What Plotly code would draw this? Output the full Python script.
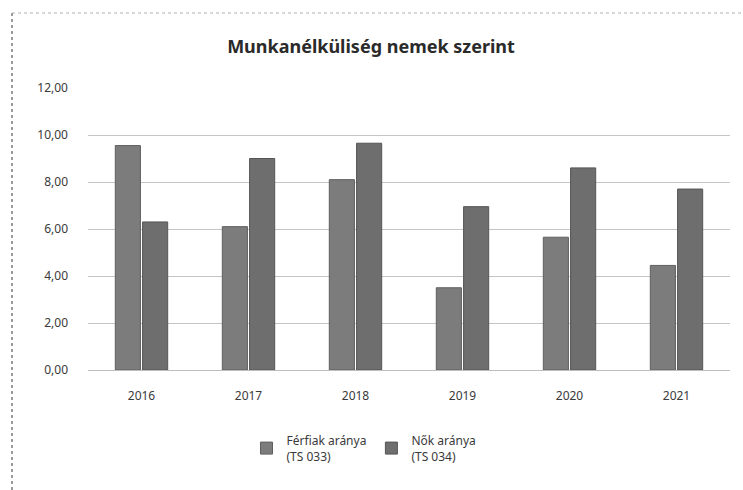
import plotly.graph_objects as go

# Unemployment rate by sex, 2016-2021
years = ["2016", "2017", "2018", "2019", "2020", "2021"]
ferfiak = [9.55, 6.1, 8.1, 3.5, 5.65, 4.45]
nok = [6.3, 9.0, 9.65, 6.95, 8.6, 7.7]
y_ticks = [0, 2, 4, 6, 8, 10, 12]

fig = go.Figure()
fig.add_trace(go.Bar(
    x=years, y=ferfiak, name="Férfiak aránya<br>(TS 033)",
    marker=dict(color="#7c7c7c", line=dict(color="#5e5e5e", width=1)),
))
fig.add_trace(go.Bar(
    x=years, y=nok, name="Nők aránya<br>(TS 034)",
    marker=dict(color="#6e6e6e", line=dict(color="#555555", width=1)),
))

# plot area in pixels: x 88..730, y 88..370
pw, ph = 642, 282

fig.update_layout(
    width=743, height=490,
    margin=dict(l=88, r=13, t=88, b=120),
    paper_bgcolor="white", plot_bgcolor="white",
    separators=",.",
    barmode="group", bargap=0.49, bargroupgap=0.08,
    font=dict(family="Noto Sans", color="#3a3a3a", size=12),
    title=dict(
        text="<b>Munkanélküliség nemek szerint</b>",
        x=371 / 743, xref="container", xanchor="center",
        y=1 - 47 / 490, yanchor="middle",
        font=dict(size=18, color="#2a2a2a"),
    ),
    xaxis=dict(
        showgrid=False, showline=True, linecolor="#bdbdbd", linewidth=1,
        ticks="", ticklabelstandoff=15, tickfont=dict(size=12),
    ),
    yaxis=dict(
        range=[0, 12], tickvals=y_ticks, tickformat=".2f",
        showgrid=True, gridcolor="#c4c4c4", gridwidth=1,
        zeroline=False, showline=False, ticks="",
        ticklabelstandoff=19, tickfont=dict(size=12),
    ),
    legend=dict(
        orientation="h", xref="container", x=364 / 743, xanchor="center",
        yref="container", y=1 - 426 / 490, yanchor="top",
        font=dict(size=12, color="#3a3a3a"), itemwidth=30,
        tracegroupgap=0,
    ),
    shapes=[
        # chart frame: left and top edges
        dict(type="line", xref="paper", yref="paper",
             x0=-76 / pw, x1=-76 / pw, y0=-120 / ph, y1=1 + 75 / ph,
             line=dict(color="#9a9a9a", width=2, dash="dot")),
        dict(type="line", xref="paper", yref="paper",
             x0=-76 / pw, x1=1 + 13 / pw, y0=1 + 75 / ph, y1=1 + 75 / ph,
             line=dict(color="#b0b0b0", width=1, dash="dot")),
    ],
)

fig.write_html("out.html")
